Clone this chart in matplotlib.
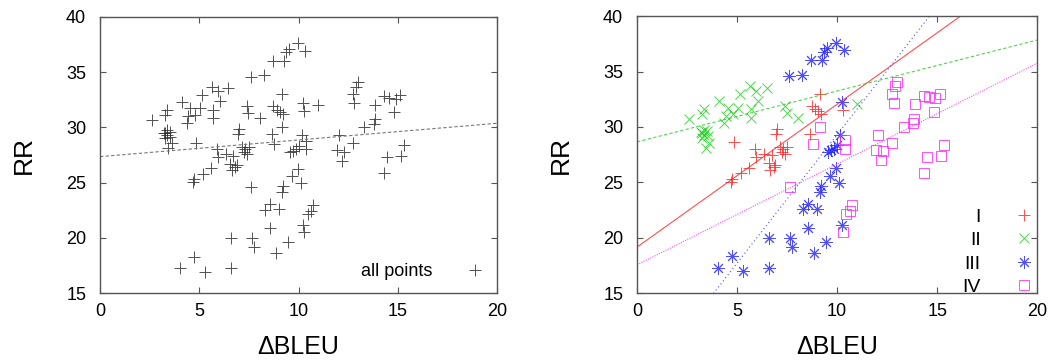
import matplotlib
matplotlib.use("Agg")
import matplotlib.pyplot as plt
import numpy as np

plt.rcParams['font.family'] = ['Liberation Sans', 'DejaVu Sans']

# cluster I (red +)
I_x = [4.85, 4.7, 4.75, 5.2, 5.6, 5.95, 5.9, 6.35, 6.72, 6.57, 6.65, 6.82, 6.9, 6.98, 6.95,
       7.15, 7.23, 7.3, 7.48, 7.38, 8.65, 8.73, 8.9, 9.05, 9.2, 9.15, 10.3]
I_y = [28.6, 25.05, 25.3, 25.8, 26.3, 27.3, 28.05, 27.6, 27.45, 26.7, 26.1, 26.4, 26.55, 29.85, 29.4,
       28.2, 27.75, 28.05, 28.2, 27.6, 29.4, 31.9, 31.6, 31.4, 31.2, 33.0, 31.5]

# cluster II (green x)
II_x = [2.6, 3.27, 3.36, 4.11, 4.53, 5.04, 5.12, 4.45, 4.79, 4.37, 5.71, 5.71, 5.63, 5.96, 6.05,
        6.47, 7.39, 7.47, 8.06, 3.27, 3.36, 3.53, 3.61, 3.44, 3.36, 3.27, 3.2, 3.5, 11.0]
II_y = [30.7, 31.15, 31.6, 32.3, 31.75, 31.75, 32.95, 31.0, 31.15, 30.4, 31.6, 30.85, 33.7, 33.25, 32.35,
        33.55, 31.9, 31.3, 30.85, 29.45, 29.3, 29.15, 28.55, 28.1, 29.75, 29.0, 29.5, 29.6, 32.05]

# cluster III (blue *)
III_x = [9.95, 9.5, 9.35, 10.35, 8.7, 9.25, 7.6, 8.25, 10.25, 10.15, 9.55, 9.7, 9.85, 10.0, 9.95,
         9.65, 10.1, 9.2, 9.15, 8.55, 8.3, 9.0, 8.55, 10.25, 6.6, 7.65, 7.75, 9.45, 8.85, 4.75, 4.05,
         5.3, 6.6]
III_y = [37.6, 37.1, 36.8, 36.95, 36.0, 36.0, 34.6, 34.7, 32.25, 29.3, 27.75, 27.9, 28.05, 28.35, 26.25,
         25.6, 24.95, 24.65, 24.15, 23.05, 22.55, 22.6, 20.85, 21.15, 19.95, 19.95, 19.2, 19.6, 18.6, 18.3,
         17.25, 16.95, 17.25]

# cluster IV (magenta squares)
IV_x = [12.98, 12.9, 12.73, 12.82, 13.87, 14.32, 14.57, 14.9, 15.12, 14.83, 13.85, 13.8, 13.32, 12.04,
        12.72, 11.95, 12.3, 12.2, 15.33, 14.47, 15.18, 14.33, 9.15, 8.78, 10.37, 10.37, 7.62, 10.72,
        10.62, 10.46, 10.29]
IV_y = [34.07, 33.7, 33.0, 32.2, 32.05, 32.8, 32.7, 32.57, 32.93, 31.37, 30.76, 30.35, 30.0, 29.3,
        28.57, 27.95, 27.8, 27.0, 28.38, 27.3, 27.38, 25.88, 30.0, 28.45, 28.8, 28.0, 24.6, 22.94,
        22.4, 22.15, 20.55]

# fitted lines (intercept, slope)
fit_all = (27.35, 0.151)
fit_I = (19.15, 1.29)
fit_II = (28.65, 0.46)
fit_III = (6.1, 2.32)
fit_IV = (17.55, 0.91)

xticks = [0, 5, 10, 15, 20]
yticks = [15, 20, 25, 30, 35, 40]

fig = plt.figure(figsize=(10.53, 3.6), dpi=100)
ax1 = fig.add_axes([0.095, 0.186, 0.377, 0.767])
ax2 = fig.add_axes([0.605, 0.186, 0.380, 0.769])

xs = np.linspace(0, 20, 400)


def style(ax):
    ax.set_xlim(0, 20)
    ax.set_ylim(15, 40)
    ax.set_xticks(xticks)
    ax.set_yticks(yticks)
    ax.tick_params(direction='in', top=True, right=True, length=4, width=0.8,
                   color='#555555', labelsize=13)
    ax.tick_params(axis='x', pad=7)
    ax.tick_params(axis='y', pad=10)
    for s in ax.spines.values():
        s.set_color('#555555')
        s.set_linewidth(1.0)
    ax.set_xlabel('ΔBLEU', fontsize=18, labelpad=11)
    ax.set_ylabel('RR', fontsize=19, labelpad=22)


# left: all points
all_x = I_x + II_x + III_x + IV_x
all_y = I_y + II_y + III_y + IV_y
ax1.plot(all_x, all_y, linestyle='none', marker='+', markersize=8, mew=0.7,
         color='#333333', alpha=0.85, label='all points')
ax1.plot(xs, fit_all[0] + fit_all[1] * xs, color='#777777', lw=0.8, ls=(0, (3, 2)))
style(ax1)
ax1.legend(loc='lower right', frameon=False, markerfirst=False, fontsize=13,
           handlelength=1, handletextpad=1.9, borderaxespad=0.3)

# right: four groups
groups = [
    (I_x, I_y, fit_I, 'I', '#ff2222', '+', dict(markersize=8), '-'),
    (II_x, II_y, fit_II, 'II', '#22cc22', 'x', dict(markersize=7), (0, (3, 2))),
    (III_x, III_y, fit_III, 'III', '#2222ff', (8, 2, 0), dict(markersize=9), (0, (1, 2.5))),
    (IV_x, IV_y, fit_IV, 'IV', '#ff22ff', 's', dict(markersize=7, markerfacecolor='none'), (0, (1, 1.2))),
]
for gx, gy, fit, lab, col, mk, kw, ls in groups:
    ax2.plot(gx, gy, linestyle='none', marker=mk, mew=0.7, color=col, alpha=0.8, label=lab, **kw)
for gx, gy, fit, lab, col, mk, kw, ls in groups:
    ax2.plot(xs, fit[0] + fit[1] * xs, color=col, lw=0.8, ls=ls, alpha=0.8)
style(ax2)
ax2.legend(loc='lower right', bbox_to_anchor=(1.0, -0.025), frameon=False, markerfirst=False,
           fontsize=14, handlelength=1, handletextpad=1.7, labelspacing=0.3, borderpad=0.1,
           borderaxespad=0.1)

fig.savefig('out.png', dpi=100)
